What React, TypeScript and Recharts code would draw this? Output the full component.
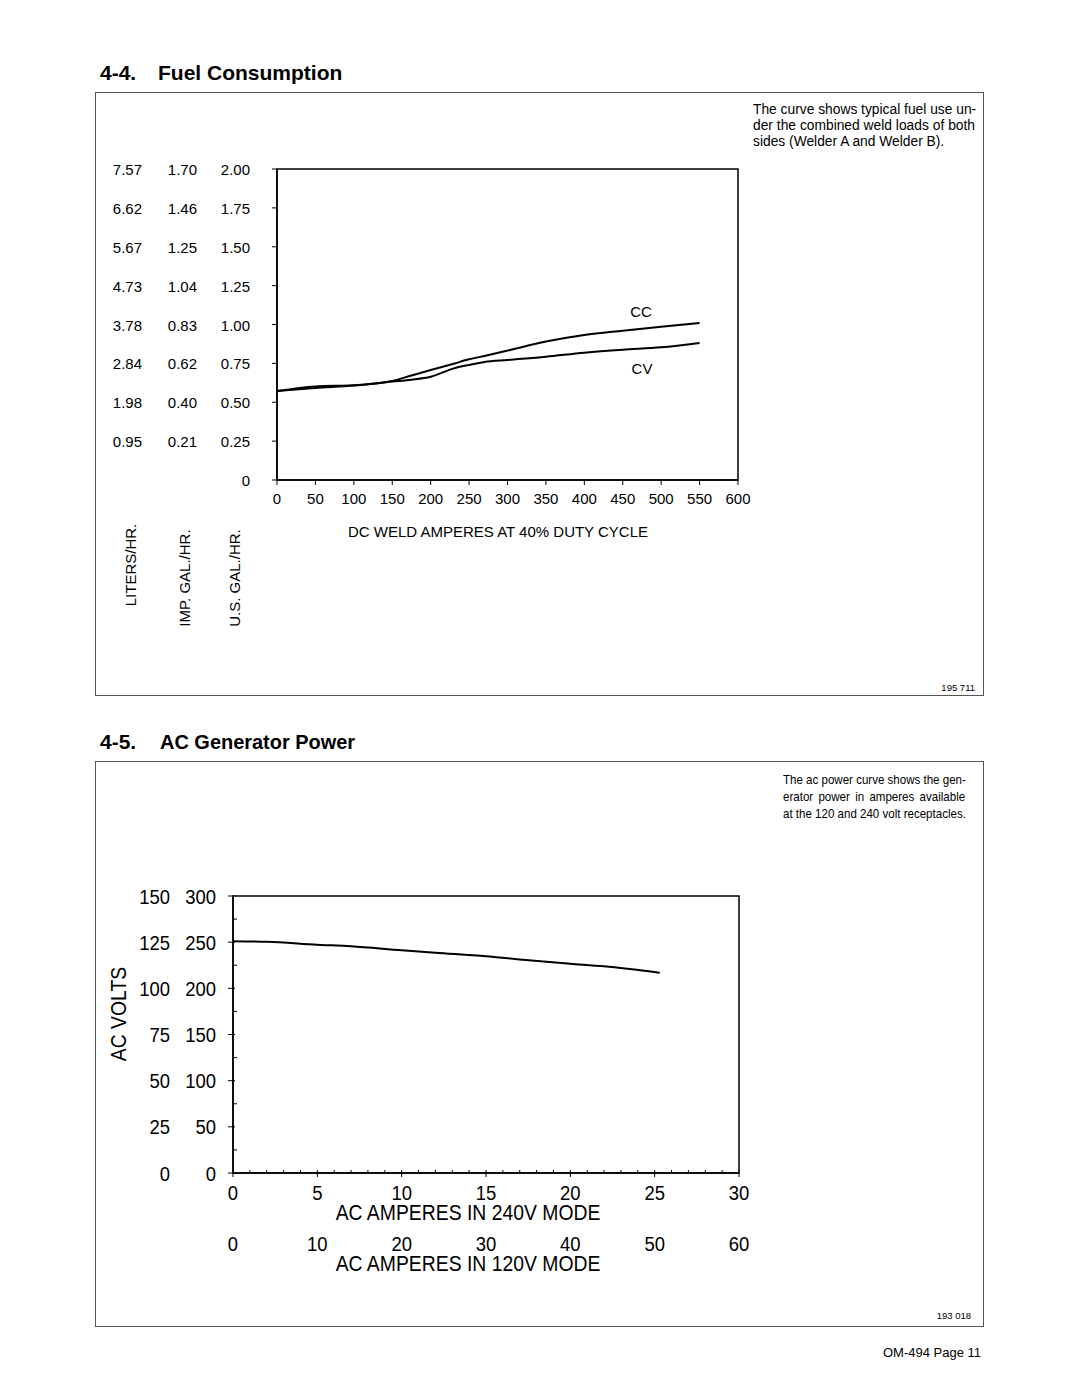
import React from 'react';
import { LineChart, Line, XAxis, YAxis, ReferenceArea } from 'recharts';

const FONT = "'Liberation Sans', Arial, Helvetica, sans-serif";
const SQ = 0.88; // horizontal squeeze of the narrow face used in section 4-5

// ---- 4-4 Fuel Consumption ----
const fuelAmps = [0, 50, 100, 150, 175, 200, 230, 250, 270, 300, 350, 400, 450, 500, 550];
const fuelCC = [0.572, 0.602, 0.609, 0.637, 0.672, 0.707, 0.748, 0.776, 0.798, 0.832, 0.89, 0.932, 0.96, 0.986, 1.01];
const fuelCV = [0.572, 0.592, 0.607, 0.633, 0.645, 0.664, 0.718, 0.74, 0.759, 0.772, 0.793, 0.819, 0.838, 0.853, 0.881];
const fuelXTicks = [0, 50, 100, 150, 200, 250, 300, 350, 400, 450, 500, 550, 600];
const usGalTicks = [0, 0.25, 0.5, 0.75, 1, 1.25, 1.5, 1.75, 2];
const usGalLabels = ['0', '0.25', '0.50', '0.75', '1.00', '1.25', '1.50', '1.75', '2.00'];
const impGalLabels = ['', '0.21', '0.40', '0.62', '0.83', '1.04', '1.25', '1.46', '1.70'];
const litersLabels = ['', '0.95', '1.98', '2.84', '3.78', '4.73', '5.67', '6.62', '7.57'];

// ---- 4-5 AC Generator Power ----
const acAmps240 = [0, 2, 5, 7, 10, 12, 15, 17, 20, 22, 25.3];
const acVolts240 = [251.0, 250.4, 247.3, 245.6, 241.2, 238.5, 234.7, 231.3, 226.7, 223.8, 216.8];
const acXTicks = [0, 1, 2, 3, 4, 5, 6, 7, 8, 9, 10, 11, 12, 13, 14, 15, 16, 17, 18, 19, 20, 21, 22, 23, 24, 25, 26, 27, 28, 29, 30];
const acXMajor = [0, 5, 10, 15, 20, 25, 30];
const amps240Labels = ['0', '5', '10', '15', '20', '25', '30'];
const amps120Labels = ['0', '10', '20', '30', '40', '50', '60'];
const acYTicks = [0, 25, 50, 75, 100, 125, 150, 175, 200, 225, 250, 275, 300];
const acYMajor = [0, 50, 100, 150, 200, 250, 300];
const volts120Labels = ['0', '25', '50', '75', '100', '125', '150'];
const volts240Labels = ['0', '50', '100', '150', '200', '250', '300'];

const FuelYTick = (props: any) => {
  const { y, payload } = props;
  const i = usGalTicks.indexOf(payload.value);
  const t = { fontFamily: FONT, fontSize: 15, fill: '#000' } as any;
  return (
    <g>
      <line x1={177} x2={182} y1={y} y2={y} stroke="#000" strokeWidth={1} />
      <text x={155} y={y + 6} textAnchor="end" style={t}>{usGalLabels[i]}</text>
      <text x={102} y={y + 6} textAnchor="end" style={t}>{impGalLabels[i]}</text>
      <text x={47} y={y + 6} textAnchor="end" style={t}>{litersLabels[i]}</text>
    </g>
  );
};

const FuelXTick = (props: any) => {
  const { x, payload } = props;
  return (
    <g>
      <line x1={x} x2={x} y1={388} y2={393} stroke="#000" strokeWidth={1} />
      <text x={x} y={412} textAnchor="middle" style={{ fontFamily: FONT, fontSize: 15, fill: '#000' }}>
        {payload.value}
      </text>
    </g>
  );
};

const NarrowText = ({ x, y, anchor, children }: any) => (
  <text
    transform={`translate(${x} ${y}) scale(${SQ} 1)`}
    x={0}
    y={0}
    textAnchor={anchor}
    style={{ fontFamily: FONT, fontSize: 21, fill: '#000' }}
  >
    {children}
  </text>
);

const AcYTick = (props: any) => {
  const { y, payload } = props;
  const i = acYMajor.indexOf(payload.value);
  if (i < 0) {
    return <line x1={138} x2={142} y1={y} y2={y} stroke="#000" strokeWidth={1} />;
  }
  return (
    <g>
      <line x1={133} x2={140} y1={y} y2={y} stroke="#000" strokeWidth={1} />
      <NarrowText x={121} y={y + 7.5} anchor="end">{volts240Labels[i]}</NarrowText>
      <NarrowText x={75} y={y + 7.5} anchor="end">{volts120Labels[i]}</NarrowText>
    </g>
  );
};

const AcXTick = (props: any) => {
  const { x, payload } = props;
  const i = acXMajor.indexOf(payload.value);
  const axisY = 412;
  if (i < 0) {
    return <line x1={x} x2={x} y1={axisY - 3} y2={axisY} stroke="#000" strokeWidth={1} />;
  }
  return (
    <g>
      <line x1={x} x2={x} y1={axisY - 3} y2={axisY + 4} stroke="#000" strokeWidth={1} />
      <NarrowText x={x} y={axisY + 27} anchor="middle">{amps240Labels[i]}</NarrowText>
      <NarrowText x={x} y={axisY + 78} anchor="middle">{amps120Labels[i]}</NarrowText>
    </g>
  );
};

const abs = (left: number, top: number, extra: any = {}) => ({ position: 'absolute', left, top, ...extra } as any);

export default function App() {
  const fuelData = fuelAmps.map((a, i) => ({ amps: a, cc: fuelCC[i], cv: fuelCV[i] }));
  const acData = acAmps240.map((a, i) => ({ amps: a, volts: acVolts240[i] }));

  const rot = (cx: number, cy: number, size: number, sq = 1) =>
    abs(cx, cy, {
      transform: `translate(-50%, -50%) rotate(-90deg) scaleX(${sq})`,
      fontSize: size,
      whiteSpace: 'nowrap',
      lineHeight: 1,
    });

  const just = { textAlign: 'justify', textAlignLast: 'justify', whiteSpace: 'nowrap' } as any;
  const centerNarrow = (cx: number, cy: number) =>
    abs(cx, cy, { transform: `translate(-50%, -50%) scaleX(${SQ})`, fontSize: 22, lineHeight: 1, whiteSpace: 'nowrap' });

  return (
    <div style={{ position: 'absolute', left: 0, top: 0, width: 1080, height: 1397, background: '#fff', color: '#000', fontFamily: FONT }}>
      {/* Titles */}
      <div style={abs(100, 62, { fontSize: 21, fontWeight: 'bold', lineHeight: '21px', whiteSpace: 'nowrap' })}>4-4.</div>
      <div style={abs(158, 62, { fontSize: 21, fontWeight: 'bold', lineHeight: '21px', whiteSpace: 'nowrap' })}>Fuel Consumption</div>

      {/* Box 1 */}
      <div style={abs(95, 92, { width: 887, height: 602, border: '1px solid #555' })} />
      <div style={abs(753, 102, { width: 222, fontSize: 13.8, lineHeight: '16px' })}>
        <div style={just}>The curve shows typical fuel use un-</div>
        <div style={just}>der the combined weld loads of both</div>
        <div style={{ whiteSpace: 'nowrap' }}>sides (Welder A and Welder B).</div>
      </div>

      <div style={abs(95, 92)}>
        <LineChart width={888} height={603} data={fuelData} margin={{ top: 77, right: 245, bottom: 0, left: 0 }}>
          <XAxis
            dataKey="amps"
            type="number"
            domain={[0, 600]}
            ticks={fuelXTicks}
            interval={0}
            height={215}
            axisLine={{ stroke: '#000', strokeWidth: 1.5 }}
            tickLine={false}
            tick={(p: any) => <FuelXTick {...p} />}
          />
          <YAxis
            type="number"
            domain={[0, 2]}
            ticks={usGalTicks}
            interval={0}
            width={182}
            axisLine={{ stroke: '#000', strokeWidth: 1.5 }}
            tickLine={false}
            tick={(p: any) => <FuelYTick {...p} />}
          />
          <ReferenceArea x1={0} x2={600} y1={0} y2={2} fill="none" fillOpacity={0} stroke="#000" strokeWidth={1.5} />
          <Line type="monotone" dataKey="cc" stroke="#000" strokeWidth={2} dot={false} isAnimationActive={false} />
          <Line type="monotone" dataKey="cv" stroke="#000" strokeWidth={2} dot={false} isAnimationActive={false} />
        </LineChart>
      </div>

      <div style={abs(641, 311, { transform: 'translate(-50%, -50%)', fontSize: 15, lineHeight: 1 })}>CC</div>
      <div style={abs(642, 368, { transform: 'translate(-50%, -50%)', fontSize: 15, lineHeight: 1 })}>CV</div>
      <div style={abs(498, 531, { transform: 'translate(-50%, -50%)', fontSize: 15, lineHeight: 1, whiteSpace: 'nowrap' })}>
        DC WELD AMPERES AT 40% DUTY CYCLE
      </div>
      <div style={rot(130, 565, 15)}>LITERS/HR.</div>
      <div style={rot(184, 578, 15)}>IMP. GAL./HR.</div>
      <div style={rot(234, 578, 15)}>U.S. GAL./HR.</div>
      <div style={abs(975, 688, { transform: 'translate(-100%, -50%)', fontSize: 9.5, lineHeight: 1, whiteSpace: 'nowrap' })}>195 711</div>

      {/* Section 4-5 */}
      <div style={abs(100, 731, { fontSize: 21, fontWeight: 'bold', lineHeight: '21px', whiteSpace: 'nowrap' })}>4-5.</div>
      <div
        style={abs(160, 731, {
          fontSize: 21,
          fontWeight: 'bold',
          lineHeight: '21px',
          whiteSpace: 'nowrap',
          transform: 'scaleX(0.95)',
          transformOrigin: '0 50%',
        })}
      >
        AC Generator Power
      </div>

      <div style={abs(95, 761, { width: 887, height: 564, border: '1px solid #555' })} />
      <div style={abs(783, 771, { width: 213, fontSize: 13.5, lineHeight: '17px', transform: 'scaleX(0.855)', transformOrigin: '0 0' })}>
        <div style={just}>The ac power curve shows the gen-</div>
        <div style={just}>erator power in amperes available</div>
        <div style={{ whiteSpace: 'nowrap' }}>at the 120 and 240 volt receptacles.</div>
      </div>

      <div style={abs(95, 761)}>
        <LineChart width={888} height={565} data={acData} margin={{ top: 135, right: 244, bottom: 0, left: 0 }}>
          <XAxis
            dataKey="amps"
            type="number"
            domain={[0, 30]}
            ticks={acXTicks}
            interval={0}
            height={153}
            axisLine={{ stroke: '#000', strokeWidth: 1.5 }}
            tickLine={false}
            tick={(p: any) => <AcXTick {...p} />}
          />
          <YAxis
            type="number"
            domain={[0, 300]}
            ticks={acYTicks}
            interval={0}
            width={138}
            axisLine={{ stroke: '#000', strokeWidth: 1.5 }}
            tickLine={false}
            tick={(p: any) => <AcYTick {...p} />}
          />
          <ReferenceArea x1={0} x2={30} y1={0} y2={300} fill="none" fillOpacity={0} stroke="#000" strokeWidth={1.5} />
          <Line type="monotone" dataKey="volts" stroke="#000" strokeWidth={2} dot={false} isAnimationActive={false} />
        </LineChart>
      </div>

      <div style={rot(119, 1014, 22, SQ)}>AC VOLTS</div>
      <div style={centerNarrow(468, 1213)}>AC AMPERES IN 240V MODE</div>
      <div style={centerNarrow(468, 1264)}>AC AMPERES IN 120V MODE</div>
      <div style={abs(971, 1316, { transform: 'translate(-100%, -50%)', fontSize: 9.5, lineHeight: 1, whiteSpace: 'nowrap' })}>193 018</div>
      <div style={abs(981, 1352, { transform: 'translate(-100%, -50%)', fontSize: 13, lineHeight: 1, whiteSpace: 'nowrap' })}>OM-494 Page 11</div>
    </div>
  );
}
